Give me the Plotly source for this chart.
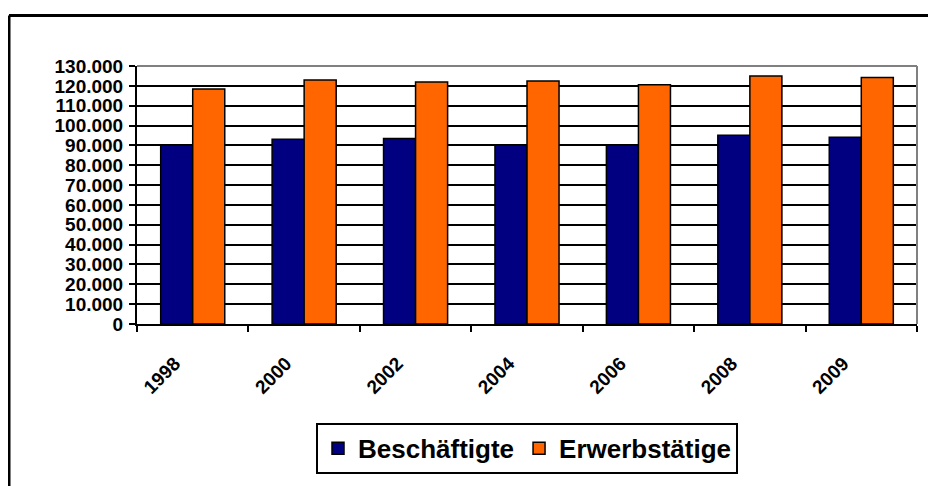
"""Beschäftigte vs. Erwerbstätige, Excel-style grouped bar chart."""
import plotly.graph_objects as go

years = ["1998", "2000", "2002", "2004", "2006", "2008", "2009"]
beschaeftigte = [90100, 93100, 93500, 90100, 90100, 95100, 94100]
erwerbstaetige = [118400, 123000, 122000, 122400, 120500, 125000, 124200]
y_ticks = list(range(0, 130001, 10000))

FONT = "Arial, 'Liberation Sans', sans-serif"

fig = go.Figure()
fig.add_trace(go.Bar(
    x=years, y=beschaeftigte, name="Beschäftigte",
    marker=dict(color="#000080", line=dict(color="black", width=1.5)),
))
fig.add_trace(go.Bar(
    x=years, y=erwerbstaetige, name="Erwerbstätige",
    marker=dict(color="#FF6600", line=dict(color="black", width=1.5)),
))

# page body has an 8px margin, so the figure is sized/offset to compensate
fig.update_layout(
    width=928,
    height=478,
    barmode="group",
    bargap=0.425,
    bargroupgap=0,
    separators=",.",
    paper_bgcolor="white",
    plot_bgcolor="white",
    margin=dict(l=129, r=19, t=58, b=159),
    font=dict(family=FONT, color="black"),
    showlegend=True,
    legend=dict(
        orientation="h",
        x=0.5, xanchor="center",
        y=-0.383, yanchor="top",
        font=dict(size=26, weight="bold", family=FONT),
        bgcolor="white",
        bordercolor="black",
        borderwidth=2,
        itemwidth=30,
    ),
    xaxis=dict(
        type="category",
        tickangle=-45,
        tickson="boundaries",
        ticks="outside",
        ticklen=6,
        tickwidth=2,
        tickcolor="black",
        showline=True,
        linecolor="black",
        linewidth=2,
        showgrid=False,
        ticklabelstandoff=19,
        ticklabelshift=-18,
        tickfont=dict(size=19, weight="bold", family=FONT),
    ),
    yaxis=dict(
        range=[0, 130000],
        tickvals=y_ticks,
        tickformat=",d",
        ticks="outside",
        ticklen=6,
        tickwidth=2,
        tickcolor="black",
        showline=True,
        linecolor="black",
        linewidth=2,
        showgrid=True,
        gridcolor="black",
        gridwidth=2,
        zeroline=False,
        ticklabelstandoff=2,
        tickfont=dict(size=19, weight="bold", family=FONT),
    ),
    shapes=[
        # gray top/right border of plot area
        dict(type="line", xref="paper", yref="paper", x0=0, x1=1, y0=1, y1=1,
             line=dict(color="#808080", width=2)),
        dict(type="line", xref="paper", yref="paper", x0=1, x1=1, y0=0, y1=1,
             line=dict(color="#808080", width=2)),
        # outer chart frame (top and left visible)
        dict(type="line", xref="paper", yref="paper",
             x0=-128 / 780, x1=1.1, y0=312 / 261, y1=312 / 261,
             line=dict(color="black", width=3)),
        dict(type="line", xref="paper", yref="paper",
             x0=-128 / 780, x1=-128 / 780, y0=312 / 261, y1=-0.7,
             line=dict(color="black", width=3)),
    ],
)

fig.write_html("out.html")
